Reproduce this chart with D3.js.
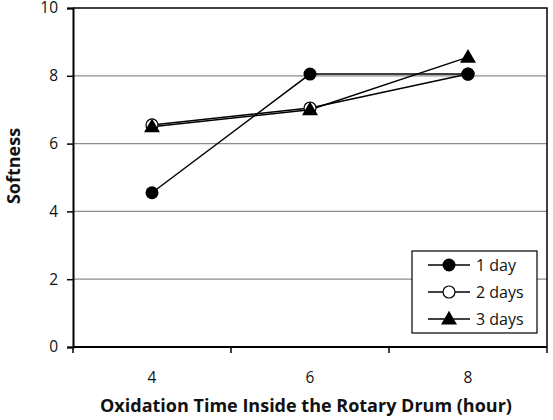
<!DOCTYPE html>
<html>
<head>
<meta charset="utf-8">
<script src="https://cdn.jsdelivr.net/npm/d3@7"></script>
<style>
  body { margin: 0; background: #fff; }
  svg text { font-family: "Open Sans", "Liberation Sans", sans-serif; fill: #111; }
</style>
</head>
<body>
<svg class="chart" width="553" height="420"></svg>
<script>
// data
let hours = ["4", "6", "8"];
let oneDay = [4.55, 8.05, 8.05];
let twoDays = [6.55, 7.05, 8.05];
let threeDays = [6.5, 7.0, 8.55];
let yTicks = [0, 2, 4, 6, 8, 10];
let seriesNames = ["1 day", "2 days", "3 days"];

let series = [
    {name: seriesNames[0], values: oneDay, marker: "dot"},
    {name: seriesNames[1], values: twoDays, marker: "ring"},
    {name: seriesNames[2], values: threeDays, marker: "tri"}
];

let plotLeft = 73, plotRight = 547, plotTop = 8, plotBottom = 347;
var svg = d3.select(".chart");

let x = d3.scaleBand().domain(hours).range([plotLeft, plotRight]);
let y = d3.scaleLinear().domain([0, 10]).range([plotBottom, plotTop]);

// grid
svg.append("g").selectAll("line")
    .data(yTicks.filter(d => d > 0 && d < 10))
    .enter().append("line")
    .attr("x1", plotLeft).attr("x2", plotRight)
    .attr("y1", d => y(d)).attr("y2", d => y(d))
    .attr("stroke", "#8c8c8c").attr("stroke-width", 1.2);

// frame (top + right)
svg.append("path")
    .attr("d", "M" + plotLeft + "," + plotTop + "H" + plotRight + "V" + plotBottom)
    .attr("fill", "none").attr("stroke", "#000").attr("stroke-width", 1.5);

// y axis
let yAxis = svg.append("g")
    .attr("transform", "translate(" + plotLeft + ",0)")
    .call(d3.axisLeft(y).tickValues(yTicks).tickSize(6).tickPadding(9));
yAxis.select(".domain").attr("stroke-width", 2);
yAxis.selectAll(".tick line").attr("stroke-width", 1.5);
yAxis.selectAll("text").style("font-size", "15.5px");

// x axis, ticks between categories
let xAxis = svg.append("g").attr("transform", "translate(0," + plotBottom + ")");
xAxis.append("line").attr("x1", plotLeft).attr("x2", plotRight)
    .attr("stroke", "#000").attr("stroke-width", 2);
let bounds = hours.map(h => x(h)).concat([plotRight]);
xAxis.selectAll(".bt").data(bounds).enter().append("line")
    .attr("x1", d => d).attr("x2", d => d).attr("y1", 0).attr("y2", 6)
    .attr("stroke", "#000").attr("stroke-width", 1.5);
xAxis.selectAll(".lbl").data(hours).enter().append("text")
    .attr("x", d => x(d) + x.bandwidth() / 2).attr("y", 36)
    .attr("text-anchor", "middle").style("font-size", "15.5px")
    .text(d => d);

// titles
svg.append("text")
    .attr("x", 306).attr("y", 412)
    .attr("text-anchor", "middle").style("font-size", "18px").attr("font-weight", "bold")
    .text("Oxidation Time Inside the Rotary Drum (hour)");
svg.append("text")
    .attr("transform", "translate(20," + 166 + ") rotate(-90)")
    .attr("text-anchor", "middle").style("font-size", "18px").attr("font-weight", "bold")
    .text("Softness");

function drawMarker(g, type, cx, cy) {
    if (type == "dot") {
        g.append("circle").attr("cx", cx).attr("cy", cy).attr("r", 6.5).attr("fill", "#000");
    } else if (type == "ring") {
        g.append("circle").attr("cx", cx).attr("cy", cy).attr("r", 6)
            .attr("fill", "#fff").attr("stroke", "#000").attr("stroke-width", 1.2);
    } else {
        g.append("path")
            .attr("d", d3.symbol().type(d3.symbolTriangle).size(110)())
            .attr("transform", "translate(" + cx + "," + (cy + 1) + ")")
            .attr("fill", "#000");
    }
}

let line = d3.line()
    .x((d, i) => x(hours[i]) + x.bandwidth() / 2)
    .y(d => y(d));

series.forEach(function(s) {
    svg.append("path").datum(s.values)
        .attr("d", line).attr("fill", "none")
        .attr("stroke", "#000").attr("stroke-width", 1.5);
});
// ring first, so the filled markers sit on top of it
[series[1], series[0], series[2]].forEach(function(s) {
    let g = svg.append("g");
    s.values.forEach(function(v, i) {
        drawMarker(g, s.marker, x(hours[i]) + x.bandwidth() / 2, y(v));
    });
});

// legend
let lg = svg.append("g");
lg.append("rect").attr("x", 412).attr("y", 251).attr("width", 125).attr("height", 82)
    .attr("fill", "#fff").attr("stroke", "#000").attr("stroke-width", 1.2);
series.forEach(function(s, i) {
    let ly = 265 + i * 27;
    lg.append("line").attr("x1", 428).attr("x2", 470).attr("y1", ly).attr("y2", ly)
        .attr("stroke", "#000").attr("stroke-width", 1.5);
    drawMarker(lg, s.marker, 449, ly);
    lg.append("text").attr("x", 476).attr("y", ly + 5.5).style("font-size", "16px").text(s.name);
});
</script>
</body>
</html>
